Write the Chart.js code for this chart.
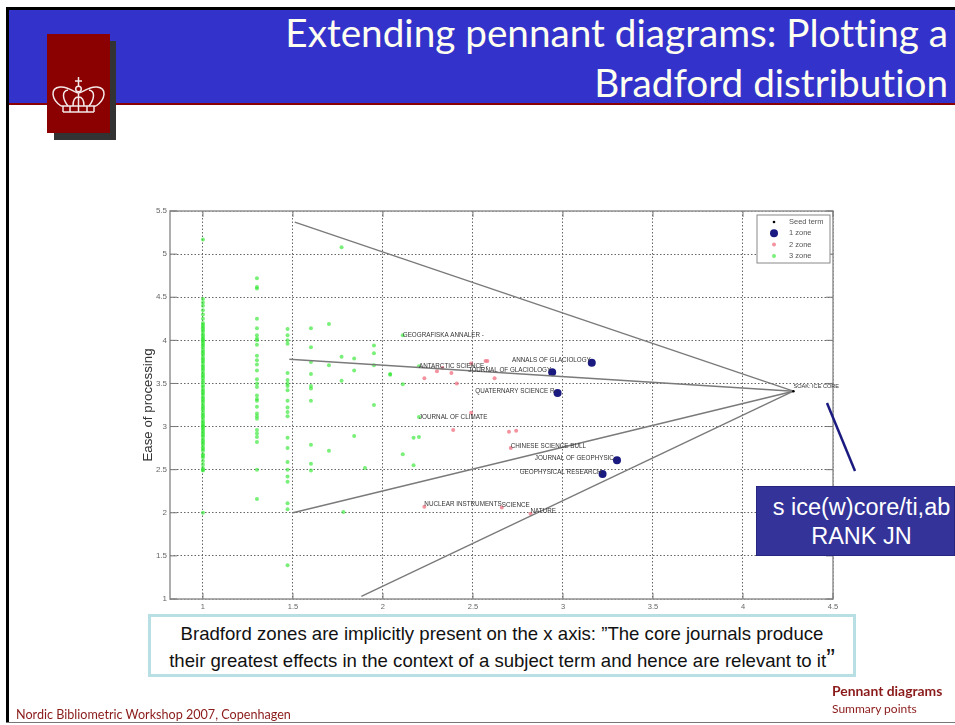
<!DOCTYPE html>
<html>
<head>
<meta charset="utf-8">
<title>Extending pennant diagrams</title>
<script src="https://cdn.jsdelivr.net/npm/chart.js@4"></script>
<style>
  html, body { margin: 0; padding: 0; background: #fff; }
  #slide { position: relative; width: 955px; height: 725px; overflow: hidden; background: #fff; }
  #slide div, #slide svg { position: absolute; }
  #topline { left: 6px; top: 7px; width: 949px; height: 3px; background: #000; }
  #leftline { left: 6px; top: 7px; width: 3px; height: 716px; background: #000; }
  #bottomline { left: 6px; top: 722px; width: 949px; height: 1px; background: #777; }
  #header { left: 9px; top: 10px; width: 946px; height: 93px; background: #3333cc; border-bottom: 2px solid #8b0000; }
  #title { right: 7px; top: 7px; text-align: right; color: #fffff0; font: 38.7px/50px Lato, sans-serif; font-variant-ligatures: none; white-space: nowrap; }
  #logoshadow { left: 54px; top: 41px; width: 62px; height: 99px; background: #333; }
  #logo { left: 47px; top: 34px; width: 63px; height: 99px; background: #8b0000; }
  #chartwrap { left: 130px; top: 200px; width: 720px; height: 420px; filter: blur(0.6px); }
  #query { left: 756px; top: 486px; width: 199px; height: 70px; box-sizing: border-box; background: #333399; border: 1px solid #262680; color: #fff; font: 23.5px/28.5px "Liberation Sans", sans-serif; text-align: center; padding: 6px 0 0 12px; white-space: nowrap; }
  #note { left: 148px; top: 614px; width: 708px; height: 63px; box-sizing: border-box; background: #fff; border: 3px solid #b8e0e4; color: #111; font: 18.6px/27px "Liberation Sans", sans-serif; text-align: center; padding-top: 3px; white-space: nowrap; }
  #note span { font-size: 26px; line-height: 10px; }
  #footer { left: 16px; top: 708px; color: #8b1a1a; font: 12.6px/14px Lato, sans-serif; white-space: nowrap; }
  #section { left: 832px; top: 682px; color: #8b1a1a; font: 12px/17px Lato, sans-serif; white-space: nowrap; }
  #section b { font-weight: 700; font-size: 13.9px; }
</style>
</head>
<body>
<div id="slide">
  <div id="header"></div>
  <div id="topline"></div>
  <div id="leftline"></div>
  <div id="bottomline"></div>
  <div id="title">Extending pennant diagrams: Plotting a<br>Bradford distribution</div>
  <div id="logoshadow"></div>
  <div id="logo">
    <svg width="63" height="99" fill="none" stroke="#f4e8e8" stroke-width="1.5" style="filter:blur(0.4px)">
      <path d="M31.5 43V52M28 47H35"/>
      <circle cx="31.5" cy="55" r="2.8"/>
      <path d="M14 72C4 65 3 54 13 53C22 52 27 59 31.5 59C36 59 41 52 50 53C60 54 59 65 49 72"/>
      <path d="M21 72C15 64 15 57 21 56M42 72C48 64 48 57 42 56"/>
      <path d="M31.5 59V72M26 72C26 66 28 63 31.5 63C35 63 37 66 37 72"/>
      <path d="M14 72H49M16 78H47M16 72V78M47 72V78M23 72V78M31.5 72V78M40 72V78"/>
    </svg>
  </div>
  <div id="chartwrap"><canvas id="pennant" width="720" height="420"></canvas></div>
  <svg style="left:0;top:0" width="955" height="725"><line x1="827" y1="403" x2="855" y2="471" stroke="#1a1a80" stroke-width="2.5"/></svg>
  <div id="query">s ice(w)core/ti,ab<br>RANK JN</div>
  <div id="note">Bradford zones are implicitly present on the x axis: ”The core journals produce<br>their greatest effects in the context of a subject term and hence are relevant to it<span>”</span></div>
  <div id="footer">Nordic Bibliometric Workshop 2007, Copenhagen</div>
  <div id="section"><b>Pennant diagrams</b><br>Summary points</div>
</div>
<script>
const xTicks = [1, 1.5, 2, 2.5, 3, 3.5, 4, 4.5];
const yTicks = [1, 1.5, 2, 2.5, 3, 3.5, 4, 4.5, 5, 5.5];
const legendNames = ['Seed term', '1 zone', '2 zone', '3 zone'];

const seedX = [4.28];
const seedY = [3.41];
const seedLabels = ['SOAK: ICE CORE'];

const zone1X = [3.16, 2.94, 2.97, 3.3, 3.22];
const zone1Y = [3.74, 3.63, 3.39, 2.61, 2.45];
const zone1Labels = ['ANNALS OF GLACIOLOGY', 'JOURNAL OF GLACIOLOGY', 'QUATERNARY SCIENCE R-', 'JOURNAL OF GEOPHYSIC-', 'GEOPHYSICAL RESEARCH'];

const zone2X = [2.23, 2.3, 2.33, 2.38, 2.41, 2.49, 2.57, 2.58, 2.62, 2.49, 2.39, 2.7, 2.74, 2.71, 2.23, 2.66, 2.82];
const zone2Y = [3.56, 3.64, 3.68, 3.62, 3.5, 3.73, 3.76, 3.76, 3.56, 3.16, 2.96, 2.94, 2.95, 2.75, 2.07, 2.06, 1.99];
const zone2Labels = ['', '', '', '', '', '', '', '', '', '', '', '', '', 'CHINESE SCIENCE BULL', 'NUCLEAR INSTRUMENTS', 'SCIENCE', 'NATURE'];

// three columns of small journals, then the loose points
const column1Y = [5.17, 4.48, 4.44, 4.4, 4.35, 4.3, 4.25, 4.2, 4.18, 4.16, 4.14, 4.12, 4.1, 4.07, 4.05, 4.03, 4.01, 4.0, 3.98, 3.96, 3.94, 3.92, 3.89, 3.87, 3.85, 3.83, 3.8, 3.78, 3.76, 3.74, 3.71, 3.69, 3.67, 3.65, 3.62, 3.6, 3.58, 3.56, 3.53, 3.51, 3.48, 3.46, 3.43, 3.41, 3.39, 3.37, 3.34, 3.32, 3.3, 3.28, 3.25, 3.23, 3.21, 3.19, 3.16, 3.14, 3.12, 3.1, 3.07, 3.05, 3.03, 3.01, 3.0, 2.98, 2.96, 2.94, 2.92, 2.9, 2.88, 2.85, 2.83, 2.81, 2.79, 2.76, 2.74, 2.72, 2.68, 2.66, 2.64, 2.6, 2.56, 2.52, 2.5, 2.49, 2.0];
const column2Y = [4.72, 4.62, 4.6, 4.25, 4.14, 4.06, 4.02, 4.0, 3.95, 3.82, 3.77, 3.72, 3.65, 3.55, 3.5, 3.46, 3.36, 3.32, 3.3, 3.23, 3.15, 3.12, 3.09, 2.96, 2.92, 2.88, 2.82, 2.5, 2.16];
const column3Y = [4.13, 4.06, 4.0, 3.96, 3.62, 3.54, 3.5, 3.47, 3.42, 3.3, 3.22, 3.17, 3.12, 2.87, 2.75, 2.59, 2.5, 2.42, 2.36, 2.11, 2.04, 1.39];
const looseX = [1.6, 1.7, 1.77, 1.6, 1.95, 1.95, 1.77, 1.84, 1.6, 1.7, 1.95, 1.6, 1.84, 1.77, 1.6, 1.6, 1.6, 1.95, 2.04, 1.6, 1.7, 1.84, 1.6, 1.6, 1.9, 1.78, 2.11, 2.2, 2.04, 2.11, 2.2, 2.17, 2.2, 2.11, 2.17];
const looseY = [4.14, 4.19, 5.08, 3.92, 3.94, 3.85, 3.81, 3.79, 3.75, 3.71, 3.71, 3.61, 3.65, 3.53, 3.47, 3.44, 3.3, 3.25, 3.6, 2.79, 2.72, 2.89, 2.57, 2.49, 2.52, 2.01, 4.06, 3.7, 3.61, 3.49, 3.11, 2.87, 2.88, 2.68, 2.55];

const column1X = 1;
const column2X = 1.3;
const column3X = 1.47;

const lineStartX = [1.51, 1.48, 1.5, 1.88];
const lineStartY = [5.37, 3.78, 2.0, 1.03];

const toPoints = (xs, ys) => ys.map((y, i) => ({ x: xs[i], y }));
const column = (x, ys) => ys.map(y => ({ x, y }));

const zone3Points = [
  ...column(column1X, column1Y),
  ...column(column2X, column2Y),
  ...column(column3X, column3Y),
  ...toPoints(looseX, looseY)
];

const zone3Labels = [
  { x: 2.11, y: 4.06, text: 'GEOGRAFISKA ANNALER -' },
  { x: 2.2, y: 3.7, text: 'ANTARCTIC SCIENCE -' },
  { x: 2.2, y: 3.11, text: 'JOURNAL OF CLIMATE' }
];

const lineSets = lineStartX.map((x, i) => ({
  type: 'scatter',
  data: [{ x, y: lineStartY[i] }, { x: seedX[0], y: seedY[0] }],
  showLine: true,
  borderColor: '#7a7a7a',
  borderWidth: 1.4,
  pointRadius: 0,
  order: 1
}));

const zoneStyles = [
  { pointBackgroundColor: '#000', pointRadius: 1.3 },
  { pointBackgroundColor: '#1a1a80', pointRadius: 4 },
  { pointBackgroundColor: 'rgba(240,120,135,0.8)', pointRadius: 2 },
  { pointBackgroundColor: 'rgba(50,230,50,0.65)', pointRadius: 2 }
];

const overlay = {
  id: 'overlay',
  afterDraw(chart) {
    const { ctx, chartArea: a, scales: { x, y } } = chart;
    ctx.save();
    ctx.strokeStyle = '#999';
    ctx.lineWidth = 1.6;
    ctx.strokeRect(a.left, a.top, a.right - a.left, a.bottom - a.top);

    // matlab style ticks point inwards
    ctx.strokeStyle = '#777';
    ctx.lineWidth = 1;
    ctx.beginPath();
    xTicks.forEach(v => {
      const px = x.getPixelForValue(v);
      ctx.moveTo(px, a.bottom); ctx.lineTo(px, a.bottom - 6);
      ctx.moveTo(px, a.top); ctx.lineTo(px, a.top + 6);
    });
    yTicks.forEach(v => {
      const py = y.getPixelForValue(v);
      ctx.moveTo(a.left, py); ctx.lineTo(a.left + 7, py);
      ctx.moveTo(a.right, py); ctx.lineTo(a.right - 7, py);
    });
    ctx.stroke();

    // journal names
    ctx.font = '6.3px "Liberation Sans", sans-serif';
    ctx.fillStyle = '#333';
    ctx.textBaseline = 'middle';
    ctx.textAlign = 'right';
    zone1Labels.forEach((t, i) => ctx.fillText(t, x.getPixelForValue(zone1X[i]) - 1, y.getPixelForValue(zone1Y[i]) - 2));
    ctx.textAlign = 'left';
    zone2Labels.forEach((t, i) => { if (t) ctx.fillText(t, x.getPixelForValue(zone2X[i]), y.getPixelForValue(zone2Y[i]) - 2); });
    zone3Labels.forEach(l => ctx.fillText(l.text, x.getPixelForValue(l.x), y.getPixelForValue(l.y)));
    ctx.font = '5.6px "Liberation Sans", sans-serif';
    ctx.fillText(seedLabels[0], x.getPixelForValue(seedX[0]), y.getPixelForValue(seedY[0]) - 5);

    // legend box, top right inside the plot
    ctx.fillStyle = '#fff';
    ctx.fillRect(627, 15, 73, 48);
    ctx.strokeStyle = '#888';
    ctx.strokeRect(627, 15, 73, 48);
    ctx.font = '7.5px "Liberation Sans", sans-serif';
    legendNames.forEach((name, i) => {
      const rowY = 22 + i * 11.3;
      ctx.beginPath();
      ctx.fillStyle = zoneStyles[i].pointBackgroundColor;
      ctx.arc(644, rowY, zoneStyles[i].pointRadius, 0, Math.PI * 2);
      ctx.fill();
      ctx.fillStyle = '#555';
      ctx.fillText(name, 659, rowY);
    });
    ctx.restore();
  }
};

const axisGrid = { color: '#666', lineWidth: 1, drawTicks: false };
const axisBorder = { display: false, dash: [1.5, 2] };

new Chart(document.getElementById('pennant').getContext('2d'), {
  type: 'scatter',
  data: {
    datasets: [
      { label: legendNames[0], data: toPoints(seedX, seedY), ...zoneStyles[0], order: 0 },
      { label: legendNames[1], data: toPoints(zone1X, zone1Y), ...zoneStyles[1], order: 2 },
      { label: legendNames[2], data: toPoints(zone2X, zone2Y), ...zoneStyles[2], order: 3 },
      { label: legendNames[3], data: zone3Points, ...zoneStyles[3], order: 4 },
      ...lineSets
    ]
  },
  options: {
    responsive: false,
    animation: false,
    layout: { padding: { top: 11, right: 17, left: 0, bottom: 0 } },
    plugins: { legend: { display: false }, tooltip: { enabled: false } },
    elements: { point: { borderWidth: 0 } },
    scales: {
      x: {
        type: 'linear',
        min: 0.817,
        max: 4.5,
        afterBuildTicks: s => { s.ticks = xTicks.map(value => ({ value })); },
        afterFit: s => { s.height = 21; },
        grid: axisGrid,
        border: axisBorder,
        ticks: { color: '#666', font: { size: 7.5, family: 'Liberation Sans' }, padding: 3, maxRotation: 0, autoSkip: false, callback: v => String(v) }
      },
      y: {
        type: 'linear',
        min: 1,
        max: 5.5,
        afterBuildTicks: s => { s.ticks = yTicks.map(value => ({ value })); },
        afterFit: s => { s.width = 40; },
        grid: axisGrid,
        border: axisBorder,
        title: { display: true, text: 'Ease of processing', color: '#333', font: { size: 13.3, family: 'Liberation Sans' }, padding: { top: 10, bottom: 0 } },
        ticks: { color: '#666', font: { size: 8, family: 'Liberation Sans' }, padding: 3, autoSkip: false, callback: v => String(v) }
      }
    }
  },
  plugins: [overlay]
});
</script>
</body>
</html>
